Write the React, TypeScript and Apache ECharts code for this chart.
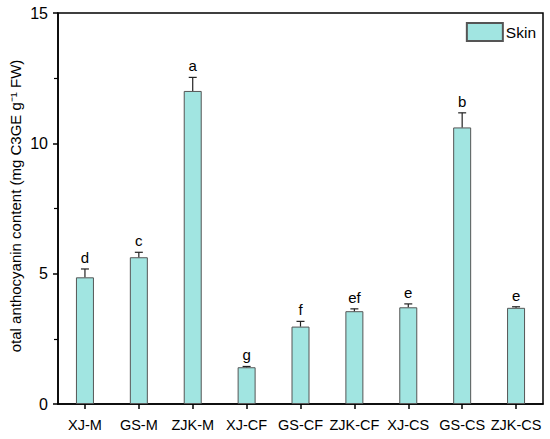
import React, { useEffect, useRef } from "react";
import * as echarts from "echarts";

const categories = ["XJ-M", "GS-M", "ZJK-M", "XJ-CF", "GS-CF", "ZJK-CF", "XJ-CS", "GS-CS", "ZJK-CS"];
const values = [4.86, 5.63, 12.01, 1.41, 2.97, 3.56, 3.71, 10.61, 3.69];
const errors = [0.32, 0.19, 0.52, 0.03, 0.2, 0.09, 0.13, 0.56, 0.04];
const letters = ["d", "c", "a", "g", "f", "ef", "e", "b", "e"];
const yTicks = [0, 5, 10, 15];

const FONT = "Liberation Sans, Arial, sans-serif";

export default function App() {
  const ref = useRef<HTMLDivElement>(null);
  useEffect(() => {
    document.body.style.margin = "0";
    const chart = echarts.init(ref.current!, null, { renderer: "svg" });
    const errData = categories.map((c, i) => [i, values[i], errors[i], letters[i]]);
    chart.setOption({
      animation: false,
      backgroundColor: "#fff",
      textStyle: { fontFamily: FONT },
      grid: {
        left: 58,
        right: 7,
        top: 13,
        bottom: 35,
        show: true,
        borderColor: "#000",
        borderWidth: 1.5,
      },
      legend: {
        right: 9,
        top: 17,
        itemWidth: 36,
        itemHeight: 18,
        itemGap: 4,
        textStyle: { fontSize: 15.5, color: "#000", fontFamily: FONT, padding: [0, 0, 0, -2] },
        data: [{ name: "Skin", icon: "rect" }],
      },
      graphic: [
        {
          type: "text",
          x: 8,
          y: 206,
          rotation: Math.PI / 2,
          style: {
            text: "otal anthocyanin content (mg C3GE g\u207B\u00B9 FW)",
            fontSize: 15,
            fontFamily: FONT,
            fill: "#000",
            align: "center",
            verticalAlign: "top",
          },
        },
      ],
      xAxis: {
        type: "category",
        data: categories,
        axisLine: { lineStyle: { color: "#000", width: 1.5 } },
        axisTick: { show: true, alignWithLabel: true, length: 5, lineStyle: { color: "#000", width: 1.5 } },
        axisLabel: { color: "#000", fontSize: 14.5, fontFamily: FONT, margin: 13, interval: 0 },
      },
      yAxis: {
        type: "value",
        min: 0,
        max: 15,
        interval: 5,
        axisLine: { show: true, lineStyle: { color: "#000", width: 1.5 } },
        axisTick: { show: true, length: 5, lineStyle: { color: "#000", width: 1.5 } },
        minorTick: { show: true, splitNumber: 2, length: 4, lineStyle: { color: "#000", width: 1.2 } },
        splitLine: { show: false },
        axisLabel: {
          color: "#000",
          fontSize: 16,
          fontFamily: FONT,
          margin: 10,
          customValues: yTicks,
        },
      },
      series: [
        {
          name: "Skin",
          type: "bar",
          data: values,
          barWidth: 18,
          itemStyle: { color: "#a1e5e1", borderColor: "#555", borderWidth: 1 },
        },
        {
          type: "custom",
          data: errData,
          z: 5,
          renderItem: (params: any, api: any) => {
            const x = api.coord([api.value(0), 0])[0];
            const top = api.coord([api.value(0), api.value(1)])[1];
            const eTop = api.coord([api.value(0), api.value(1) + api.value(2)])[1];
            const letter = letters[params.dataIndex];
            return {
              type: "group",
              children: [
                {
                  type: "line",
                  shape: { x1: x, y1: top, x2: x, y2: eTop },
                  style: { stroke: "#222", lineWidth: 1.2 },
                },
                {
                  type: "line",
                  shape: { x1: x - 4, y1: eTop, x2: x + 4, y2: eTop },
                  style: { stroke: "#222", lineWidth: 1.2 },
                },
                {
                  type: "text",
                  x: x,
                  y: eTop - 4,
                  style: {
                    text: letter,
                    fontSize: 15,
                    fontFamily: FONT,
                    fill: "#000",
                    align: "center",
                    verticalAlign: "bottom",
                  },
                },
              ],
            };
          },
        },
      ],
    });
    return () => chart.dispose();
  }, []);
  return <div ref={ref} style={{ width: 550, height: 439 }} />;
}
